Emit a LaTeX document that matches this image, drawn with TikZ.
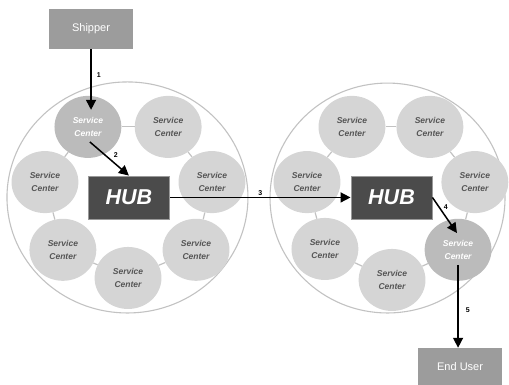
\documentclass[tikz,border=0pt]{standalone}
\usepackage{fontspec}
\setmainfont{Liberation Sans}
\usetikzlibrary{arrows.meta,positioning,calc,shapes.geometric}
\definecolor{scfill}{HTML}{D5D5D5}
\definecolor{hotfill}{HTML}{BBBBBB}
\definecolor{sctext}{HTML}{555555}
\definecolor{hubfill}{HTML}{4B4B4B}
\definecolor{boxfill}{HTML}{9C9C9C}
\definecolor{ringline}{HTML}{C2C2C2}

\begin{document}
\begin{tikzpicture}[
    every node/.style={font=\small},
    sc/.style={ellipse, fill=scfill, minimum width=2.35cm, minimum height=2.18cm, inner sep=0pt, align=center, text=sctext, font=\fontsize{8.5}{12.5}\selectfont\bfseries\itshape},
    hot/.style={sc, fill=hotfill, text=white},
    cluster/.style={ellipse, draw=ringline, line width=1.1pt, inner sep=0pt},
    hub/.style={draw=gray!80, fill=hubfill, line width=0.8pt, minimum width=2.88cm, minimum height=1.51cm, text=white, font=\fontsize{21.5}{24}\selectfont\bfseries\itshape},
    box/.style={fill=boxfill, minimum width=2.95cm, text=white, font=\fontsize{11}{13}\selectfont},
    link/.style={ringline, line width=1.2pt},
    flow/.style={-{Triangle[length=10pt, width=10pt]}, line width=1.5pt},
    num/.style={font=\fontsize{7}{8}\selectfont\bfseries, inner sep=1pt},
]
\useasboundingbox (0,0) rectangle (17.89,13.53);

% === LEFT RING ===
\node[cluster, minimum width=8.47cm, minimum height=8.12cm] (lring) at (4.48, 6.59) {};

\node[hot] (ltl) at (3.09, 9.07) {Service\\Center};
\node[sc] (ltr) at (5.91, 9.07) {Service\\Center};
\node[sc] (ll) at (1.58, 7.13) {Service\\Center};
\node[sc] (lr) at (7.45, 7.13) {Service\\Center};
\node[sc] (lbl) at (2.21, 4.75) {Service\\Center};
\node[sc] (lb) at (4.50, 3.76) {Service\\Center};
\node[sc] (lbr) at (6.89, 4.75) {Service\\Center};

\draw[link] (ltl) -- (ltr);
\draw[link] (ltr) -- (lr);
\draw[link] (lr) -- (lbr);
\draw[link] (lbr) -- (lb);
\draw[link] (lb) -- (lbl);
\draw[link] (lbl) -- (ll);
\draw[link] (ll) -- (ltl);

\node[hub] (lhub) at (4.53, 6.59) {HUB};

% === RIGHT RING ===
\node[cluster, minimum width=8.26cm, minimum height=8.08cm] (rring) at (13.62, 6.57) {};

\node[sc] (rtl) at (12.37, 9.07) {Service\\Center};
\node[sc] (rtr) at (15.11, 9.07) {Service\\Center};
\node[sc] (rl) at (10.79, 7.13) {Service\\Center};
\node[sc] (rr) at (16.69, 7.13) {Service\\Center};
\node[sc] (rbl) at (11.42, 4.78) {Service\\Center};
\node[sc] (rb) at (13.78, 3.69) {Service\\Center};
\node[hot] (rbr) at (16.10, 4.75) {Service\\Center};

\draw[link] (rtl) -- (rtr);
\draw[link] (rtr) -- (rr);
\draw[link] (rr) -- (rbr);
\draw[link] (rbr) -- (rb);
\draw[link] (rb) -- (rbl);
\draw[link] (rbl) -- (rl);
\draw[link] (rl) -- (rtl);

\node[hub, minimum width=2.85cm] (rhub) at (13.76, 6.59) {HUB};

% === END POINTS ===
\node[box, minimum height=1.41cm] (shipper) at (3.20, 12.51) {Shipper};
\node[box, minimum height=1.30cm] (enduser) at (16.17, 0.65) {End User};

\coordinate (in1) at (3.20, 9.67);
\coordinate (out2) at (3.16, 8.54);
\coordinate (in4) at (16.06, 5.34);
\coordinate (out5) at (16.10, 4.22);

% Route of a parcel
\draw[flow] (shipper) -- (in1) node[num, pos=0.43, right=4pt] {1};
\draw[flow] (out2) -- (lhub.north) node[num, pos=0.55, above right=1pt] {2};
\draw[flow] (lhub) -- (rhub) node[num, midway, above=0pt] {3};
\draw[flow] (rhub.east) -- (in4) node[num, pos=0.4, above right=0pt] {4};
\draw[flow] (out5) -- (out5 |- enduser.north) node[num, pos=0.54, right=6pt] {5};

\end{tikzpicture}
\end{document}
